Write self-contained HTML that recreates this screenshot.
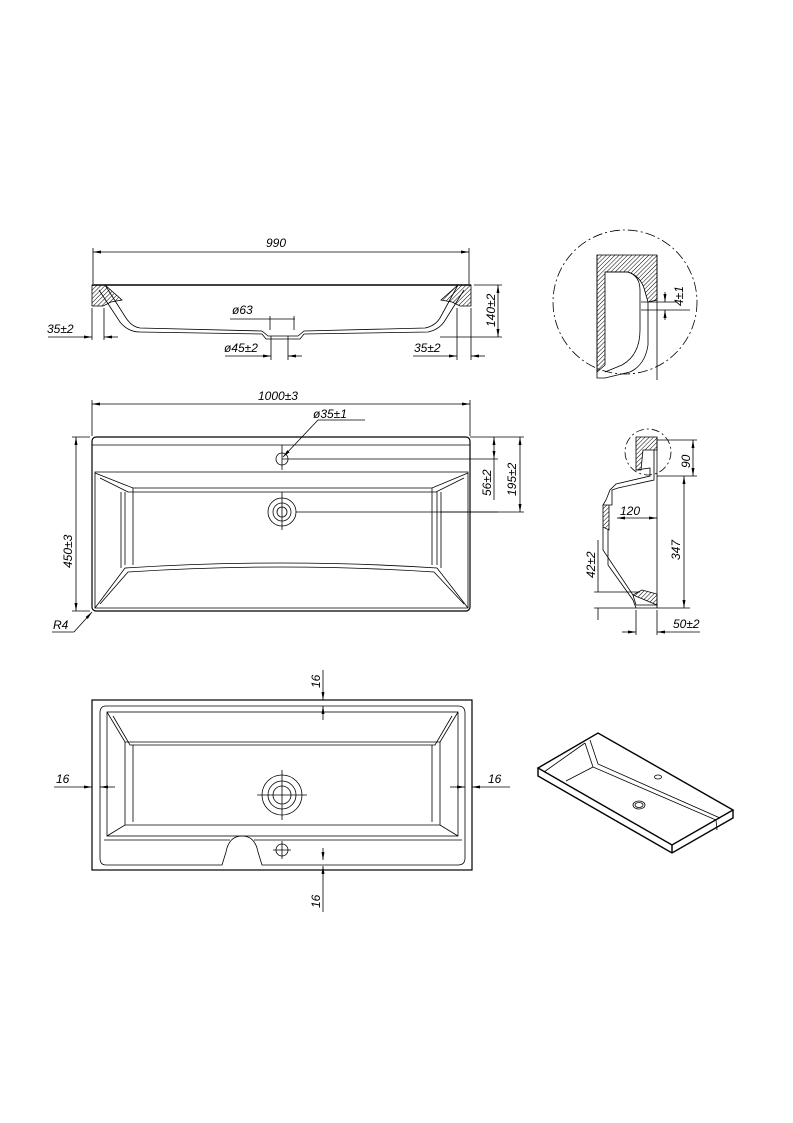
<!DOCTYPE html>
<html><head><style>html,body{margin:0;padding:0;background:#fff}svg{display:block}text{font-family:"Liberation Sans",sans-serif;font-style:italic;font-size:12px;fill:#000;stroke:none}</style></head>
<body>
<svg width="793" height="1123" viewBox="0 0 793 1123" xmlns="http://www.w3.org/2000/svg">
<defs>
<pattern id="h" width="3" height="3" patternUnits="userSpaceOnUse" patternTransform="rotate(45)"><line x1="0" y1="0" x2="0" y2="3" stroke="#000" stroke-width="1"/></pattern>
<marker id="a" markerWidth="8" markerHeight="6" refX="8" refY="3" orient="auto-start-reverse" markerUnits="userSpaceOnUse"><path d="M0,1.5L8,3L0,4.5z" fill="#000" stroke="none"/></marker>
</defs>
<g fill="none" stroke="#000" stroke-width="0.8">
<!-- TOP SECTION VIEW -->
<line x1="93" y1="248" x2="93" y2="284"/><line x1="469" y1="248" x2="469" y2="284"/>
<line x1="93" y1="252" x2="469" y2="252" marker-start="url(#a)" marker-end="url(#a)"/>
<text x="266" y="247">990</text>
<line x1="92" y1="285" x2="471" y2="285" stroke-width="1.6"/>
<path d="M92,285 L105,285 L122,300 L111,302 L103,306 L92,306 Z" fill="url(#h)"/>
<path d="M471,285 L458,285 L441,300 L452,302 L460,306 L471,306 Z" fill="url(#h)"/>
<path d="M105,285 L126,318 Q132,327 140,328 L262,331 L268,336 L298,336 L304,331 L425,328 Q435,326 440,318 L458,285"/>
<path d="M99,290 L120,322 Q128,332 140,332 L262,334 L266,339 L300,339 L304,334 L428,332 Q438,330 444,322 L464,290"/>
<line x1="92" y1="308" x2="92" y2="340"/><line x1="104" y1="308" x2="104" y2="340"/>
<line x1="48" y1="337" x2="92" y2="337" marker-end="url(#a)"/><line x1="104" y1="337" x2="118" y2="337" marker-start="url(#a)"/>
<text x="47" y="333">35±2</text>
<line x1="230" y1="319" x2="295" y2="319"/><line x1="270" y1="316" x2="270" y2="330"/><line x1="294" y1="316" x2="294" y2="330"/>
<text x="232" y="314">ø63</text>
<line x1="225" y1="356" x2="271" y2="356" marker-end="url(#a)"/><line x1="288" y1="356" x2="302" y2="356" marker-start="url(#a)"/>
<line x1="271" y1="336" x2="271" y2="360"/><line x1="288" y1="336" x2="288" y2="360"/>
<text x="224" y="352">ø45±2</text>
<line x1="457" y1="308" x2="457" y2="360"/><line x1="471" y1="308" x2="471" y2="360"/>
<line x1="413" y1="356" x2="457" y2="356" marker-end="url(#a)"/><line x1="471" y1="356" x2="485" y2="356" marker-start="url(#a)"/>
<text x="414" y="352">35±2</text>
<line x1="474" y1="285" x2="502" y2="285"/><line x1="440" y1="337" x2="502" y2="337"/>
<line x1="498" y1="285" x2="498" y2="337" marker-start="url(#a)" marker-end="url(#a)"/>
<text transform="translate(495,327) rotate(-90)">140±2</text>

<!-- DETAIL CIRCLE -->
<circle cx="625" cy="302" r="72" stroke-dasharray="10,3,2,3"/>
<path d="M597,255 L657,255 L657,300 L648,302 L644,288 Q640,276 628,272 L605,272 L605,365 L597,372 Z" fill="url(#h)"/>
<path d="M605,272 L628,272 Q640,276 640,290 L640,330 Q640,355 622,365 L605,372"/>
<path d="M648,302 L648,345 Q645,365 630,372 L605,378 L597,378 L597,255"/>
<line x1="657" y1="255" x2="657" y2="380"/>
<line x1="641" y1="302" x2="676" y2="302"/><line x1="641" y1="310" x2="690" y2="310"/>
<line x1="665" y1="292" x2="665" y2="302" marker-end="url(#a)"/><line x1="665" y1="320" x2="665" y2="310" marker-end="url(#a)"/>
<text transform="translate(683,306) rotate(-90)" font-size="11">4±1</text>

<!-- PLAN VIEW -->
<line x1="92" y1="400" x2="92" y2="436"/><line x1="470" y1="400" x2="470" y2="436"/>
<line x1="92" y1="404" x2="470" y2="404" marker-start="url(#a)" marker-end="url(#a)"/>
<text x="258" y="400">1000±3</text>
<rect x="92" y="437" width="378" height="174" rx="4" stroke-width="1.2"/>
<line x1="92" y1="445" x2="470" y2="445"/>
<path d="M95,472 L468,472 L468,608 L95,608 Z"/>
<path d="M95,473 L133,488 L432,488 L468,473"/>
<path d="M100,478 L128,492 L436,492 L464,478"/>
<path d="M125,492 L125,565 M121,492 L121,568 M437,492 L437,565 M441,492 L441,568"/>
<path d="M133,488 L133,565 M432,488 L432,565"/>
<path d="M95,608 L125,568 Q282,558 437,568 L468,608"/>
<path d="M100,604 L128,572 Q282,562 434,572 L464,604"/>
<circle cx="282" cy="459" r="6"/>
<line x1="282" y1="445" x2="282" y2="470"/><line x1="282" y1="459" x2="498" y2="459"/>
<line x1="283" y1="457" x2="318" y2="420" marker-start="url(#a)"/><line x1="318" y1="420" x2="365" y2="420"/>
<text x="313" y="418">ø35±1</text>
<circle cx="282" cy="512" r="14"/><circle cx="282" cy="512" r="9"/><circle cx="282" cy="512" r="5"/>
<line x1="296" y1="512" x2="498" y2="512"/><line x1="282" y1="492" x2="282" y2="530"/>
<line x1="470" y1="437" x2="524" y2="437"/><line x1="440" y1="512" x2="524" y2="512"/>
<line x1="520" y1="437" x2="520" y2="512" marker-start="url(#a)" marker-end="url(#a)"/>
<text transform="translate(516,496) rotate(-90)">195±2</text>
<line x1="494" y1="437" x2="494" y2="459" marker-start="url(#a)" marker-end="url(#a)"/>
<line x1="494" y1="459" x2="494" y2="500"/>
<text transform="translate(491,496) rotate(-90)">56±2</text>
<line x1="72" y1="437" x2="90" y2="437"/><line x1="72" y1="611" x2="90" y2="611"/>
<line x1="76" y1="437" x2="76" y2="611" marker-start="url(#a)" marker-end="url(#a)"/>
<text transform="translate(72,568) rotate(-90)">450±3</text>
<line x1="52" y1="632" x2="74" y2="632"/><line x1="74" y1="632" x2="92" y2="612" marker-end="url(#a)"/>
<text x="53" y="629">R4</text>

<!-- SIDE SECTION -->
<line x1="657" y1="437" x2="657" y2="608"/>
<path d="M636,437 L657,437 L657,450 L643,450 L641,470 L636,470 Z" fill="url(#h)"/>
<path d="M636,470 L650,468 L650,476 L616,484 L610,490 L606,500 L603,505 L612,505 L612,490 L618,488 L654,480 L654,450"/>
<path d="M603,505 L603,527 L609,530 L609,505" fill="url(#h)"/>
<path d="M603,527 L603,550 L633,595 L636,605 L657,605 L657,608 L636,608 L633,600 L608,565 L608,530"/>
<path d="M633,595 L657,605 L657,594 L642,590 Z" fill="url(#h)"/>
<circle cx="648" cy="452" r="23" stroke-dasharray="8,3,2,3"/>
<line x1="657" y1="440" x2="697" y2="440"/><line x1="657" y1="476" x2="697" y2="476"/>
<line x1="693" y1="440" x2="693" y2="476" marker-start="url(#a)" marker-end="url(#a)"/>
<text transform="translate(690,468) rotate(-90)">90</text>
<line x1="657" y1="608" x2="690" y2="608"/>
<line x1="684" y1="476" x2="684" y2="608" marker-start="url(#a)" marker-end="url(#a)"/>
<text transform="translate(680,560) rotate(-90)">347</text>
<line x1="617" y1="518" x2="657" y2="518" marker-start="url(#a)" marker-end="url(#a)"/>
<text x="620" y="515">120</text>
<line x1="594" y1="592" x2="640" y2="592"/><line x1="594" y1="608" x2="636" y2="608"/>
<line x1="598" y1="540" x2="598" y2="592"/><line x1="598" y1="608" x2="598" y2="620"/>
<text transform="translate(595,578) rotate(-90)">42±2</text>
<line x1="636" y1="610" x2="636" y2="635"/><line x1="657" y1="610" x2="657" y2="635"/>
<line x1="622" y1="632" x2="636" y2="632" marker-end="url(#a)"/><line x1="657" y1="632" x2="700" y2="632" marker-start="url(#a)"/>
<text x="673" y="628">50±2</text>

<!-- BOTTOM VIEW -->
<rect x="92" y="700" width="380" height="170" stroke-width="1.2"/>
<path d="M106,706 L458,706 Q465,706 465,713 L465,858 Q465,865 458,865 L262,865 L258,852 Q255,836 242,836 Q229,836 226,852 L222,865 L106,865 Q100,865 100,858 L100,713 Q100,706 106,706 Z"/>
<rect x="107" y="712" width="351" height="124"/>
<path d="M107,712 L125,742 L440,742 L458,712 M107,836 L125,825 L440,825 L458,836"/>
<path d="M113,716 L130,745 L435,745 L452,716"/>
<path d="M125,742 L125,825 M133,745 L133,822 M440,742 L440,825 M432,745 L432,822"/>
<path d="M104,840 L230,840 M254,840 L462,840"/>
<circle cx="282" cy="795" r="20"/><circle cx="282" cy="795" r="14"/><circle cx="282" cy="795" r="9"/>
<line x1="282" y1="770" x2="282" y2="820"/><line x1="257" y1="795" x2="307" y2="795"/>
<circle cx="282" cy="850" r="6"/><line x1="273" y1="850" x2="291" y2="850"/><line x1="282" y1="841" x2="282" y2="859"/>
<line x1="323" y1="670" x2="323" y2="700" marker-end="url(#a)"/><line x1="323" y1="720" x2="323" y2="706" marker-end="url(#a)"/>
<text transform="translate(320,688) rotate(-90)">16</text>
<line x1="323" y1="882" x2="323" y2="866" marker-end="url(#a)"/><line x1="323" y1="848" x2="323" y2="860" marker-end="url(#a)"/>
<line x1="323" y1="882" x2="323" y2="912"/>
<text transform="translate(320,908) rotate(-90)">16</text>
<line x1="54" y1="787" x2="92" y2="787" marker-end="url(#a)"/><line x1="115" y1="787" x2="100" y2="787" marker-end="url(#a)"/>
<text x="56" y="783">16</text>
<line x1="510" y1="787" x2="472" y2="787" marker-end="url(#a)"/><line x1="450" y1="787" x2="465" y2="787" marker-end="url(#a)"/>
<text x="488" y="783">16</text>

<!-- ISOMETRIC -->
<g stroke-width="1.4">
<path d="M538,768 L598,733 L733,810 L672,845 Z"/>
<path d="M538,768 L538,776 L672,853 L733,818 L733,810 M672,845 L672,853"/>
</g>
<path d="M585,743 L593,767 L716,820 L717,830"/>
<path d="M590,740 L598,764 L720,818"/>
<path d="M593,767 L566,781"/>
<path d="M544,772 L585,743"/>
<ellipse cx="658" cy="777" rx="3.5" ry="2"/>
<ellipse cx="639" cy="805" rx="6" ry="4"/><ellipse cx="639" cy="805" rx="4" ry="2.5"/>
</g>
</svg>
</body></html>
